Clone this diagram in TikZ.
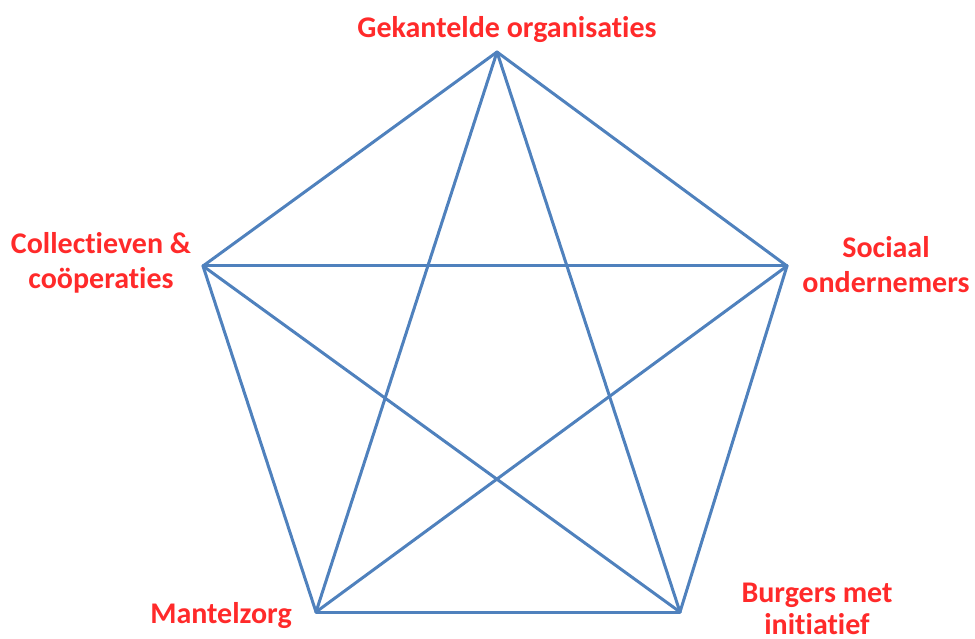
\documentclass[tikz,border=0pt]{standalone}
\usepackage{fontspec}
\setmainfont[Ligatures=NoCommon]{Carlito}
\definecolor{lbl}{HTML}{FF2A2A}
\definecolor{edge}{HTML}{4F81BD}
\begin{document}
\begin{tikzpicture}[x=1pt,y=-1pt,
  lab/.style={text=lbl,font=\bfseries\fontsize{30}{35}\selectfont,align=center,inner sep=0pt},
  link/.style={draw=edge,line width=3pt,line cap=round,line join=round}]
\useasboundingbox (0,0) rectangle (975,639);
\coordinate (T) at (497,52);
\coordinate (L) at (203,266);
\coordinate (R) at (787,266);
\coordinate (BL) at (316,612);
\coordinate (BR) at (680,612);
\foreach \a/\b in {T/L,T/R,T/BL,T/BR,L/R,L/BL,L/BR,R/BL,R/BR,BL/BR}
  \draw[link] (\a) -- (\b);
\node[lab,anchor=base] (tT) at (507,38) {Gekantelde organisaties};
\node[lab,anchor=base] (tL) at (101,288) {Collectieven \&\\coöperaties};
\node[lab,anchor=base] (tR) at (886,292) {Sociaal\\ondernemers};
\node[lab,anchor=base] (tBL) at (221,623) {Mantelzorg};
\node[lab,anchor=base,font=\bfseries\fontsize{30}{32}\selectfont] (tBR) at (817,634) {Burgers met\\initiatief};
\end{tikzpicture}
\end{document}
